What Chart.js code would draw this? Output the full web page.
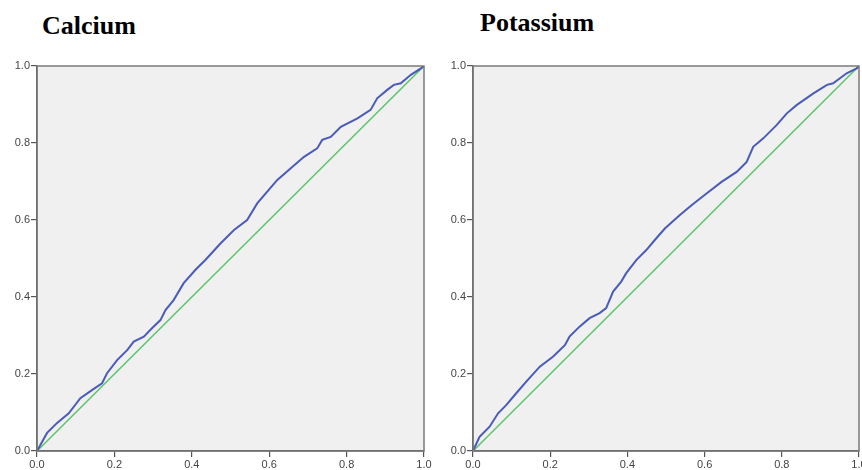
<!DOCTYPE html>
<html>
<head>
<meta charset="utf-8">
<script src="https://cdn.jsdelivr.net/npm/chart.js@4/dist/chart.umd.min.js"></script>
<style>
  html, body { margin:0; padding:0; background:#fff; }
  body { width:862px; height:470px; position:relative; overflow:hidden; }
  .ttl { position:absolute; font-family:"Liberation Serif","Times New Roman",serif; font-weight:bold; font-size:26px; line-height:26px; color:#000; white-space:nowrap; }
  canvas { position:absolute; top:0; }
</style>
</head>
<body>
<div class="ttl" style="left:42px;top:13px;">Calcium</div>
<div class="ttl" style="left:480px;top:10px;">Potassium</div>
<canvas id="c1" width="441" height="470" style="left:0px;width:441px;height:470px;"></canvas>
<canvas id="c2" width="440" height="470" style="left:436px;width:440px;height:470px;"></canvas>
<script>
// ---- data ----
const tickValues = [0, 0.2, 0.4, 0.6, 0.8, 1.0];
const refFpr = [0, 1];
const refTpr = [0, 1];

const calciumFpr = [0, 0.026, 0.052, 0.082, 0.112, 0.142, 0.168, 0.181, 0.207, 0.233, 0.250, 0.276, 0.297, 0.319, 0.332, 0.353, 0.379, 0.409, 0.435, 0.474, 0.509, 0.543, 0.569, 0.591, 0.621, 0.655, 0.690, 0.724, 0.737, 0.759, 0.785, 0.828, 0.862, 0.879, 0.905, 0.922, 0.940, 0.966, 0.992, 1];
const calciumTpr = [0, 0.047, 0.073, 0.098, 0.137, 0.158, 0.176, 0.202, 0.236, 0.262, 0.284, 0.297, 0.319, 0.340, 0.366, 0.392, 0.436, 0.470, 0.496, 0.539, 0.574, 0.600, 0.643, 0.669, 0.704, 0.734, 0.764, 0.786, 0.808, 0.816, 0.842, 0.864, 0.886, 0.916, 0.938, 0.951, 0.955, 0.977, 0.994, 1];

const potassiumFpr = [0, 0.017, 0.043, 0.065, 0.086, 0.112, 0.138, 0.173, 0.207, 0.238, 0.250, 0.276, 0.302, 0.328, 0.345, 0.363, 0.384, 0.397, 0.423, 0.449, 0.471, 0.497, 0.536, 0.567, 0.605, 0.644, 0.683, 0.709, 0.726, 0.752, 0.787, 0.813, 0.839, 0.882, 0.917, 0.933, 0.968, 0.994, 1];
const potassiumTpr = [0, 0.037, 0.063, 0.098, 0.119, 0.150, 0.180, 0.219, 0.245, 0.275, 0.297, 0.323, 0.345, 0.358, 0.371, 0.414, 0.440, 0.462, 0.496, 0.522, 0.548, 0.578, 0.613, 0.639, 0.669, 0.699, 0.725, 0.751, 0.790, 0.812, 0.847, 0.877, 0.899, 0.929, 0.951, 0.955, 0.981, 0.994, 1];

function toPts(xs, ys) { return xs.map((x, i) => ({x: x, y: ys[i]})); }

const bgPlugin = {
  id: 'plotBg',
  beforeDraw(chart) {
    const {ctx, chartArea: a} = chart;
    ctx.save();
    ctx.fillStyle = '#f0f0f0';
    ctx.fillRect(a.left, a.top, a.right - a.left, a.bottom - a.top);
    ctx.restore();
  },
  afterDraw(chart) {
    const {ctx, chartArea: a} = chart;
    ctx.save();
    ctx.strokeStyle = '#7a7a7a';
    ctx.lineWidth = 1.5;
    ctx.strokeRect(a.left, a.top, a.right - a.left, a.bottom - a.top);
    ctx.restore();
  }
};

function makeChart(id, fpr, tpr, rightPad) {
  const tickFont = {family: 'Liberation Sans, Arial, sans-serif', size: 11};
  const axisCommon = {
    type: 'linear', min: 0, max: 1,
    grid: {display: true, drawOnChartArea: false, drawTicks: true, tickLength: 6, color: '#555', lineWidth: 1.2},
    border: {display: true, color: '#555', width: 1.5},
    afterBuildTicks(scale) { scale.ticks = tickValues.map(v => ({value: v})); },
    ticks: {font: tickFont, color: '#444', padding: 1, callback: v => Number(v).toFixed(1), maxRotation: 0, autoSkip: false}
  };
  return new Chart(document.getElementById(id), {
    type: 'scatter',
    data: {
      datasets: [
        {data: toPts(fpr, tpr), showLine: true, borderColor: '#4a5bb8', borderWidth: 2, pointRadius: 0, tension: 0, order: 1},
        {data: toPts(refFpr, refTpr), showLine: true, borderColor: '#5cc46a', borderWidth: 1.5, pointRadius: 0, tension: 0, order: 2}
      ]
    },
    options: {
      responsive: false, animation: false,
      layout: {padding: {left: 0, right: rightPad, top: 66, bottom: 0}},
      plugins: {legend: {display: false}, tooltip: {enabled: false}, title: {display: false}},
      scales: {
        x: Object.assign({}, axisCommon, {position: 'bottom', afterFit(s) { s.height = 19; }}),
        y: Object.assign({}, axisCommon, {position: 'left', afterFit(s) { s.width = 37; }})
      }
    },
    plugins: [bgPlugin]
  });
}

makeChart('c1', calciumFpr, calciumTpr, 17);
makeChart('c2', potassiumFpr, potassiumTpr, 17);
</script>
</body>
</html>
